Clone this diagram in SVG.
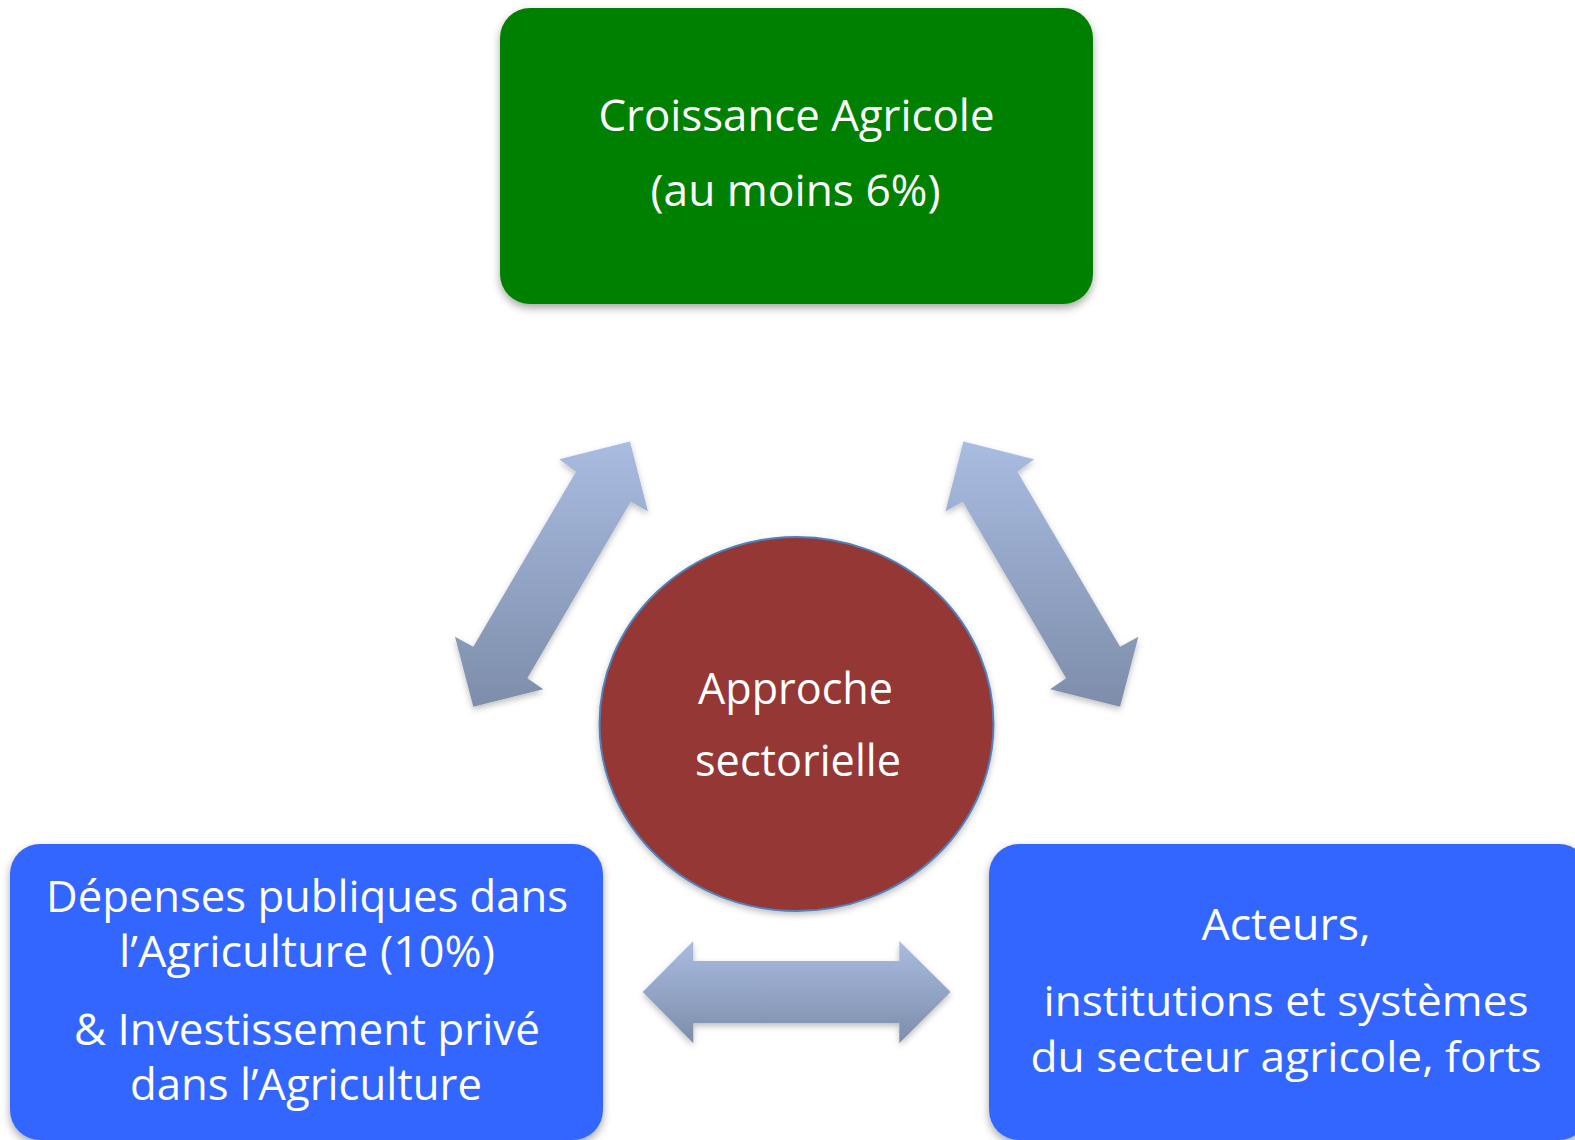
<svg xmlns="http://www.w3.org/2000/svg" width="1575" height="1140" viewBox="0 0 1575 1140">
  <defs>
    <linearGradient id="arrowGrad" x1="0" y1="0" x2="0" y2="1">
      <stop offset="0" stop-color="#A9BCE1"/>
      <stop offset="1" stop-color="#7D8DAA"/>
    </linearGradient>
    <filter id="shadow" x="-10%" y="-10%" width="120%" height="125%">
      <feDropShadow dx="0" dy="4" stdDeviation="4" flood-color="#000" flood-opacity="0.35"/>
    </filter>
    <filter id="arrowShadow" x="-10%" y="-10%" width="120%" height="125%">
      <feDropShadow dx="0" dy="3" stdDeviation="3" flood-color="#000" flood-opacity="0.25"/>
    </filter>
  </defs>
  <style>
    .lbl { font-family: "Open Sans", "Noto Sans", "DejaVu Sans", sans-serif; font-size: 44px; fill: #FFFFFF; text-anchor: middle; }
    .tight { font-size: 42px; }
    .arrow { fill: url(#arrowGrad); filter: url(#arrowShadow); }
    .box { filter: url(#shadow); }
  </style>
  <rect width="1575" height="1140" fill="#FFFFFF"/>

  <g id="connectors">
    <polygon class="arrow" points="630,441.5 648,511.5 630.7,501.7 527.3,678.3 543.3,689.3 473.3,706.7 455,636.7 473.3,646.7 576,471.7 559.3,459.3"/>
    <polygon class="arrow" points="963.4,441.5 945.4,511.5 962.7,501.7 1066.1,678.3 1050.1,689.3 1120.1,706.7 1138.4,636.7 1120.1,646.7 1017.4,471.7 1034.1,459.3"/>
    <polygon class="arrow" points="642.7,992 693.3,941 693.3,961 899.3,961 899.3,941 950.7,992 899.3,1043.3 899.3,1023.3 693.3,1023.3 693.3,1043.3"/>
  </g>

  <g id="croissance">
    <rect class="box" x="500" y="8" width="593" height="296" rx="30" ry="30" fill="#008000"/>
    <text class="lbl" x="796.5" y="131" textLength="396" lengthAdjust="spacingAndGlyphs">Croissance Agricole</text>
    <text class="lbl" x="795.5" y="206" textLength="290" lengthAdjust="spacingAndGlyphs">(au moins 6%)</text>
  </g>

  <g id="approche">
    <ellipse cx="796.5" cy="724" rx="197" ry="187" fill="#953735" stroke="#4F81BD" stroke-width="2" filter="url(#arrowShadow)"/>
    <text class="lbl" x="795.5" y="704" textLength="195" lengthAdjust="spacingAndGlyphs">Approche</text>
    <text class="lbl" x="798" y="776" textLength="206" lengthAdjust="spacingAndGlyphs">sectorielle</text>
  </g>

  <g id="depenses">
    <rect class="box" x="10" y="844" width="593" height="296" rx="30" ry="30" fill="#3366FF"/>
    <text class="lbl" x="307" y="912" textLength="522" lengthAdjust="spacingAndGlyphs">Dépenses publiques dans</text>
    <text class="lbl" x="307" y="967" textLength="376" lengthAdjust="spacingAndGlyphs">l’Agriculture (10%)</text>
    <text class="lbl" x="307" y="1045" textLength="466" lengthAdjust="spacingAndGlyphs">&amp; Investissement privé</text>
    <text class="lbl" x="306" y="1100" textLength="352" lengthAdjust="spacingAndGlyphs">dans l’Agriculture</text>
  </g>

  <g id="acteurs">
    <rect class="box" x="989" y="844" width="600" height="296" rx="30" ry="30" fill="#3366FF"/>
    <text class="lbl" x="1286" y="940" textLength="169" lengthAdjust="spacingAndGlyphs">Acteurs,</text>
    <text class="lbl tight" x="1286" y="1016" textLength="485" lengthAdjust="spacingAndGlyphs">institutions et systèmes</text>
    <text class="lbl tight" x="1286" y="1072" textLength="511" lengthAdjust="spacingAndGlyphs">du secteur agricole, forts</text>
  </g>
</svg>
